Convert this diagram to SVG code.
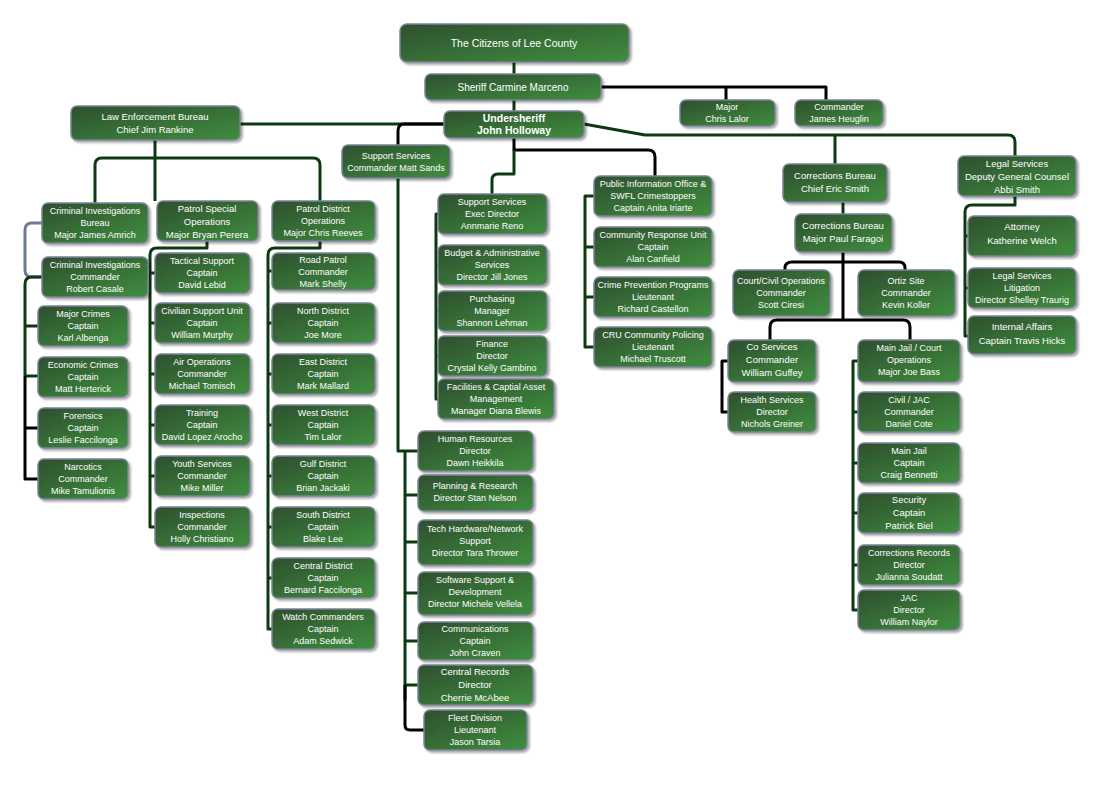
<svg xmlns="http://www.w3.org/2000/svg" width="1101" height="786" viewBox="0 0 1101 786">
<defs>
<linearGradient id="g" x1="0" y1="0" x2="1" y2="1"><stop offset="0" stop-color="#2e4f2e"/><stop offset="1" stop-color="#3f8e3f"/></linearGradient>
<filter id="s" x="-10%" y="-10%" width="130%" height="140%"><feDropShadow dx="2" dy="2" stdDeviation="1.2" flood-color="#000" flood-opacity="0.35"/></filter>
</defs>
<style>
.b{fill:url(#g);stroke:#7b8296;stroke-width:1.5;filter:url(#s)}
text{font-family:"Liberation Sans",Arial,sans-serif;font-size:9px;fill:#fff;text-anchor:middle}
.c path{fill:none;stroke-width:3;stroke-linejoin:round}
.gr{stroke:#0c3a10}.bk{stroke:#000}.gy{stroke:#6f7896}
</style>
<rect width="1101" height="786" fill="#fff"/>
<g class="c">
<path class="gr" d="M514,62V74M514,100V111M444,124H240"/>
<path class="bk" d="M601,87H826V100M726,87V100"/>
<path class="bk" d="M444,124H404Q398,124 398,131V145"/>
<path class="gr" d="M584,124L645,135H1008Q1015,135 1015,142V156M835,135V164"/>
<path class="bk" d="M514,138V150H648Q655,150 655,157V176"/>
<path class="gr" d="M514,150V174H498Q492,174 492,180V194"/>
<path class="gr" d="M438,214H436V399H438M436,265H438M436,311H438M436,356H438"/>
<path class="gr" d="M594,196H585V347H594M585,247H594M585,297H594"/>
<path class="gr" d="M398,178V451H418M405,451V700M405,495H418M405,542H418M405,593H418M405,641H418M405,685H418"/>
<path class="bk" d="M405,685V725Q405,730 410,730H424"/>
<path class="gr" d="M155,140V158H102Q95,158 95,165V203M155,158V201M155,158H313Q320,158 320,165V201"/>
<path class="gy" d="M42,223H32Q25,223 25,230V270Q25,277 32,277H42"/>
<path class="gr" d="M42,277H32Q25,277 25,284V376M25,326H38M25,376H38"/>
<path class="bk" d="M25,376V479H38M25,428H38"/>
<path class="gr" d="M207,241V248H157Q150,248 150,255V527H155M150,273H155M150,323H155M150,374H155M150,425H155M150,476H155"/>
<path class="gr" d="M320,241V248H275Q268,248 268,255V629H272M268,271H272M268,323H272M268,374H272M268,425H272M268,476H272M268,527H272M268,578H272"/>
<path class="gr" d="M843,202V214"/>
<path class="bk" d="M843,252V262H792Q785,262 785,268V270M843,262H899Q905,262 905,268V270M843,262V320H777Q770,320 770,327V340M843,320H903Q910,320 910,327V340"/>
<path class="bk" d="M728,361H722V412H728"/>
<path class="gr" d="M858,361H853V610H858M853,412H858M853,463H858M853,513H858M853,565H858"/>
<path class="gr" d="M1015,196V205H972Q965,205 965,212V336H968M965,236H968M965,288H968"/>
</g>
<g id="n1"><rect class="b" x="400" y="24" width="229" height="38" rx="7"/><text x="514" y="47" style="font-size:10.5px">The Citizens of Lee County</text></g>
<g id="n2"><rect class="b" x="425" y="74" width="176" height="26" rx="6"/><text x="513" y="91" style="font-size:10px">Sheriff Carmine Marceno</text></g>
<g id="n3"><rect class="b" x="444" y="111" width="140" height="27" rx="6"/><text x="514" y="122" style="font-size:10.5px;font-weight:bold">Undersheriff</text><text x="514" y="134" style="font-size:10.5px;font-weight:bold">John Holloway</text></g>
<g id="n4"><rect class="b" x="680" y="100" width="95" height="26" rx="6"/><text x="727" y="110">Major</text><text x="727" y="122">Chris Lalor</text></g>
<g id="n5"><rect class="b" x="795" y="100" width="88" height="26" rx="6"/><text x="839" y="110">Commander</text><text x="839" y="122">James Heuglin</text></g>
<g id="n6"><rect class="b" x="71" y="106" width="169" height="34" rx="6"/><text x="155" y="120" style="font-size:9.5px">Law Enforcement Bureau</text><text x="155" y="133" style="font-size:9.5px">Chief Jim Rankine</text></g>
<g id="n7"><rect class="b" x="342" y="145" width="108" height="33" rx="6"/><text x="396" y="159">Support Services</text><text x="396" y="171">Commander Matt Sands</text></g>
<g id="n8"><rect class="b" x="42" y="203" width="106" height="40" rx="6"/><text x="95" y="214">Criminal Investigations</text><text x="95" y="226">Bureau</text><text x="95" y="238">Major James Amrich</text></g>
<g id="n9"><rect class="b" x="42" y="257" width="106" height="40" rx="6"/><text x="95" y="268">Criminal Investigations</text><text x="95" y="280">Commander</text><text x="95" y="292">Robert Casale</text></g>
<g id="n10"><rect class="b" x="38" y="306" width="90" height="40" rx="6"/><text x="83" y="317">Major Crimes</text><text x="83" y="329">Captain</text><text x="83" y="341">Karl Albenga</text></g>
<g id="n11"><rect class="b" x="38" y="357" width="90" height="40" rx="6"/><text x="83" y="368">Economic Crimes</text><text x="83" y="380">Captain</text><text x="83" y="392">Matt Herterick</text></g>
<g id="n12"><rect class="b" x="38" y="408" width="90" height="40" rx="6"/><text x="83" y="419">Forensics</text><text x="83" y="431">Captain</text><text x="83" y="443">Leslie Faccilonga</text></g>
<g id="n13"><rect class="b" x="38" y="459" width="90" height="40" rx="6"/><text x="83" y="470">Narcotics</text><text x="83" y="482">Commander</text><text x="83" y="494">Mike Tamulionis</text></g>
<g id="n14"><rect class="b" x="157" y="201" width="101" height="40" rx="6"/><text x="207" y="212" style="font-size:9.5px">Patrol Special</text><text x="207" y="225" style="font-size:9.5px">Operations</text><text x="207" y="238" style="font-size:9.5px">Major Bryan Perera</text></g>
<g id="n15"><rect class="b" x="155" y="253" width="95" height="40" rx="6"/><text x="202" y="264">Tactical Support</text><text x="202" y="276">Captain</text><text x="202" y="288">David Lebid</text></g>
<g id="n16"><rect class="b" x="155" y="303" width="95" height="40" rx="6"/><text x="202" y="314">Civilian Support Unit</text><text x="202" y="326">Captain</text><text x="202" y="338">William Murphy</text></g>
<g id="n17"><rect class="b" x="155" y="354" width="95" height="40" rx="6"/><text x="202" y="365">Air Operations</text><text x="202" y="377">Commander</text><text x="202" y="389">Michael Tomisch</text></g>
<g id="n18"><rect class="b" x="155" y="405" width="95" height="40" rx="6"/><text x="202" y="416">Training</text><text x="202" y="428">Captain</text><text x="202" y="440">David Lopez Arocho</text></g>
<g id="n19"><rect class="b" x="155" y="456" width="95" height="40" rx="6"/><text x="202" y="467">Youth Services</text><text x="202" y="479">Commander</text><text x="202" y="491">Mike Miller</text></g>
<g id="n20"><rect class="b" x="155" y="507" width="95" height="40" rx="6"/><text x="202" y="518">Inspections</text><text x="202" y="530">Commander</text><text x="202" y="542">Holly Christiano</text></g>
<g id="n21"><rect class="b" x="272" y="201" width="103" height="40" rx="6"/><text x="323" y="212">Patrol District</text><text x="323" y="224">Operations</text><text x="323" y="236">Major Chris Reeves</text></g>
<g id="n22"><rect class="b" x="272" y="253" width="103" height="37" rx="6"/><text x="323" y="263">Road Patrol</text><text x="323" y="275">Commander</text><text x="323" y="287">Mark Shelly</text></g>
<g id="n23"><rect class="b" x="272" y="303" width="103" height="40" rx="6"/><text x="323" y="314">North District</text><text x="323" y="326">Captain</text><text x="323" y="338">Joe More</text></g>
<g id="n24"><rect class="b" x="272" y="354" width="103" height="40" rx="6"/><text x="323" y="365">East District</text><text x="323" y="377">Captain</text><text x="323" y="389">Mark Mallard</text></g>
<g id="n25"><rect class="b" x="272" y="405" width="103" height="40" rx="6"/><text x="323" y="416">West District</text><text x="323" y="428">Captain</text><text x="323" y="440">Tim Lalor</text></g>
<g id="n26"><rect class="b" x="272" y="456" width="103" height="40" rx="6"/><text x="323" y="467">Gulf District</text><text x="323" y="479">Captain</text><text x="323" y="491">Brian Jackaki</text></g>
<g id="n27"><rect class="b" x="272" y="507" width="103" height="40" rx="6"/><text x="323" y="518">South District</text><text x="323" y="530">Captain</text><text x="323" y="542">Blake Lee</text></g>
<g id="n28"><rect class="b" x="272" y="558" width="103" height="40" rx="6"/><text x="323" y="569">Central District</text><text x="323" y="581">Captain</text><text x="323" y="593">Bernard Faccilonga</text></g>
<g id="n29"><rect class="b" x="272" y="609" width="103" height="40" rx="6"/><text x="323" y="620">Watch Commanders</text><text x="323" y="632">Captain</text><text x="323" y="644">Adam Sedwick</text></g>
<g id="n30"><rect class="b" x="438" y="194" width="109" height="40" rx="6"/><text x="492" y="205">Support Services</text><text x="492" y="217">Exec Director</text><text x="492" y="229">Annmarie Reno</text></g>
<g id="n31"><rect class="b" x="438" y="245" width="109" height="40" rx="6"/><text x="492" y="256">Budget &amp; Administrative</text><text x="492" y="268">Services</text><text x="492" y="280">Director Jill Jones</text></g>
<g id="n32"><rect class="b" x="438" y="291" width="109" height="40" rx="6"/><text x="492" y="302">Purchasing</text><text x="492" y="314">Manager</text><text x="492" y="326">Shannon Lehman</text></g>
<g id="n33"><rect class="b" x="438" y="336" width="109" height="40" rx="6"/><text x="492" y="347">Finance</text><text x="492" y="359">Director</text><text x="492" y="371">Crystal Kelly Gambino</text></g>
<g id="n34"><rect class="b" x="438" y="379" width="116" height="40" rx="6"/><text x="496" y="390">Facilities &amp; Captial Asset</text><text x="496" y="402">Management</text><text x="496" y="414">Manager Diana Blewis</text></g>
<g id="n35"><rect class="b" x="418" y="431" width="115" height="40" rx="6"/><text x="475" y="442">Human Resources</text><text x="475" y="454">Director</text><text x="475" y="466">Dawn Heikkila</text></g>
<g id="n36"><rect class="b" x="418" y="475" width="115" height="36" rx="6"/><text x="475" y="489">Planning &amp; Research</text><text x="475" y="501">Director Stan Nelson</text></g>
<g id="n37"><rect class="b" x="418" y="520" width="115" height="45" rx="6"/><text x="475" y="532">Tech Hardware/Network</text><text x="475" y="544">Support</text><text x="475" y="556">Director Tara Thrower</text></g>
<g id="n38"><rect class="b" x="418" y="572" width="115" height="43" rx="6"/><text x="475" y="583">Software Support &amp;</text><text x="475" y="595">Development</text><text x="475" y="607">Director Michele Vellela</text></g>
<g id="n39"><rect class="b" x="418" y="622" width="115" height="38" rx="6"/><text x="475" y="632">Communications</text><text x="475" y="644">Captain</text><text x="475" y="656">John Craven</text></g>
<g id="n40"><rect class="b" x="418" y="665" width="115" height="40" rx="6"/><text x="475" y="675" style="font-size:9.5px">Central Records</text><text x="475" y="688" style="font-size:9.5px">Director</text><text x="475" y="701" style="font-size:9.5px">Cherrie McAbee</text></g>
<g id="n41"><rect class="b" x="424" y="710" width="103" height="40" rx="6"/><text x="475" y="721">Fleet Division</text><text x="475" y="733">Lieutenant</text><text x="475" y="745">Jason Tarsia</text></g>
<g id="n42"><rect class="b" x="594" y="176" width="118" height="40" rx="6"/><text x="653" y="187">Public Information Office &amp;</text><text x="653" y="199">SWFL Crimestoppers</text><text x="653" y="211">Captain Anita Iriarte</text></g>
<g id="n43"><rect class="b" x="594" y="227" width="118" height="40" rx="6"/><text x="653" y="238">Community Response Unit</text><text x="653" y="250">Captain</text><text x="653" y="262">Alan Canfield</text></g>
<g id="n44"><rect class="b" x="594" y="277" width="118" height="40" rx="6"/><text x="653" y="288">Crime Prevention Programs</text><text x="653" y="300">Lieutenant</text><text x="653" y="312">Richard Castellon</text></g>
<g id="n45"><rect class="b" x="594" y="327" width="118" height="40" rx="6"/><text x="653" y="338">CRU Community Policing</text><text x="653" y="350">Lieutenant</text><text x="653" y="362">Michael Truscott</text></g>
<g id="n46"><rect class="b" x="783" y="164" width="104" height="38" rx="6"/><text x="835" y="179" style="font-size:9.5px">Corrections Bureau</text><text x="835" y="192" style="font-size:9.5px">Chief Eric Smith</text></g>
<g id="n47"><rect class="b" x="795" y="214" width="97" height="38" rx="6"/><text x="843" y="229" style="font-size:9.5px">Corrections Bureau</text><text x="843" y="242" style="font-size:9.5px">Major Paul Faragoi</text></g>
<g id="n48"><rect class="b" x="733" y="270" width="97" height="46" rx="6"/><text x="781" y="284">Court/Civil Operations</text><text x="781" y="296">Commander</text><text x="781" y="308">Scott Ciresi</text></g>
<g id="n49"><rect class="b" x="858" y="270" width="97" height="46" rx="6"/><text x="906" y="284">Ortiz Site</text><text x="906" y="296">Commander</text><text x="906" y="308">Kevin Koller</text></g>
<g id="n50"><rect class="b" x="728" y="340" width="88" height="42" rx="6"/><text x="772" y="350" style="font-size:9.5px">Co Services</text><text x="772" y="363" style="font-size:9.5px">Commander</text><text x="772" y="376" style="font-size:9.5px">William Guffey</text></g>
<g id="n51"><rect class="b" x="728" y="392" width="88" height="40" rx="6"/><text x="772" y="403">Health Services</text><text x="772" y="415">Director</text><text x="772" y="427">Nichols Greiner</text></g>
<g id="n52"><rect class="b" x="858" y="340" width="102" height="42" rx="6"/><text x="909" y="351">Main Jail / Court</text><text x="909" y="363">Operations</text><text x="909" y="375">Major  Joe Bass</text></g>
<g id="n53"><rect class="b" x="858" y="392" width="102" height="40" rx="6"/><text x="909" y="403">Civil / JAC</text><text x="909" y="415">Commander</text><text x="909" y="427">Daniel Cote</text></g>
<g id="n54"><rect class="b" x="858" y="443" width="102" height="40" rx="6"/><text x="909" y="454">Main Jail</text><text x="909" y="466">Captain</text><text x="909" y="478">Craig Bennetti</text></g>
<g id="n55"><rect class="b" x="858" y="493" width="102" height="40" rx="6"/><text x="909" y="503" style="font-size:9.5px">Security</text><text x="909" y="516" style="font-size:9.5px">Captain</text><text x="909" y="529" style="font-size:9.5px">Patrick Biel</text></g>
<g id="n56"><rect class="b" x="858" y="545" width="102" height="40" rx="6"/><text x="909" y="556">Corrections Records</text><text x="909" y="568">Director</text><text x="909" y="580">Julianna Soudatt</text></g>
<g id="n57"><rect class="b" x="858" y="590" width="102" height="40" rx="6"/><text x="909" y="601">JAC</text><text x="909" y="613">Director</text><text x="909" y="625">William Naylor</text></g>
<g id="n58"><rect class="b" x="958" y="156" width="118" height="40" rx="6"/><text x="1017" y="167" style="font-size:9.5px">Legal Services</text><text x="1017" y="180" style="font-size:9.5px">Deputy General Counsel</text><text x="1017" y="193" style="font-size:9.5px">Abbi Smith</text></g>
<g id="n59"><rect class="b" x="968" y="216" width="108" height="40" rx="6"/><text x="1022" y="230" style="font-size:9.5px">Attorney</text><text x="1022" y="244" style="font-size:9.5px">Katherine Welch</text></g>
<g id="n60"><rect class="b" x="968" y="268" width="108" height="40" rx="6"/><text x="1022" y="279">Legal Services</text><text x="1022" y="291">Litigation</text><text x="1022" y="303">Director Shelley Traurig</text></g>
<g id="n61"><rect class="b" x="968" y="316" width="108" height="38" rx="6"/><text x="1022" y="330" style="font-size:9.5px">Internal Affairs</text><text x="1022" y="344" style="font-size:9.5px">Captain Travis Hicks</text></g>
</svg>
